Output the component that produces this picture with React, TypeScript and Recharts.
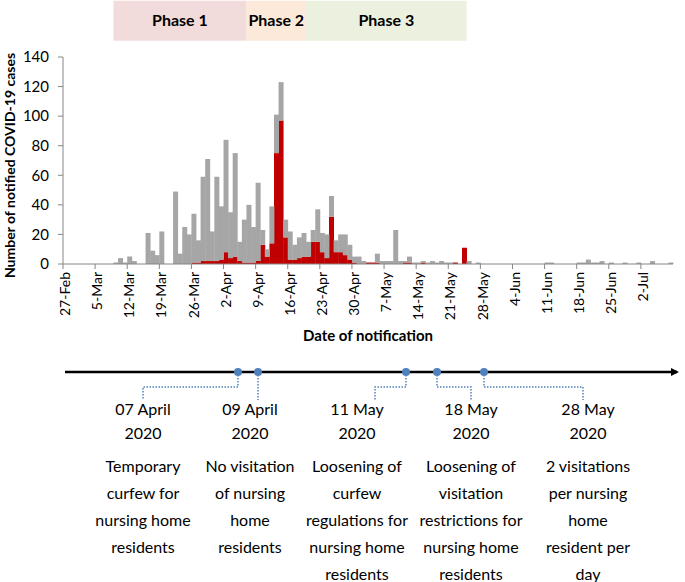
import React from 'react';
import { BarChart, Bar, XAxis, YAxis, ReferenceArea, Label } from 'recharts';

const MONTHS = ['Jan', 'Feb', 'Mar', 'Apr', 'May', 'Jun', 'Jul'];

// one category per day, 27-Feb-2020 .. 8-Jul-2020
const days: string[] = Array.from({ length: 133 }, (_, i) => {
  const d = new Date(2020, 1, 27 + i);
  return `${d.getDate()}-${MONTHS[d.getMonth()]}`;
});

const tickLabels = [
  '27-Feb', '5-Mar', '12-Mar', '19-Mar', '26-Mar', '2-Apr', '9-Apr', '16-Apr', '23-Apr', '30-Apr',
  '7-May', '14-May', '21-May', '28-May', '4-Jun', '11-Jun', '18-Jun', '25-Jun', '2-Jul',
];

const yTicks = [0, 20, 40, 60, 80, 100, 120, 140];

// all notified cases per day (one row per week, starting on the tick date)
const totalCases = [
  0, 0, 0, 0, 0, 0, 0,
  0, 0, 0, 0, 1, 4, 1,
  5, 2, 0, 0, 21, 9, 6,
  22, 0, 0, 49, 7, 25, 20,
  34, 16, 59, 71, 22, 59, 39,
  84, 35, 75, 15, 30, 40, 25,
  55, 23, 10, 39, 101, 123, 30,
  22, 13, 18, 21, 15, 23, 37,
  21, 20, 46, 16, 20, 20, 13,
  5, 5, 2, 1, 1, 7, 2,
  2, 2, 23, 2, 2, 5, 1,
  1, 2, 1, 2, 1, 2, 1,
  1, 1, 0, 11, 2, 0, 1,
  0, 0, 0, 0, 0, 0, 0,
  0, 0, 0, 0, 0, 0, 0,
  1, 1, 0, 0, 0, 0, 0,
  1, 1, 3, 1, 1, 2, 0,
  1, 0, 0, 1, 0, 0, 1,
  0, 0, 2, 0, 0, 0, 1,
];

// cases linked to nursing homes
const nursingHomeCases = [
  0, 0, 0, 0, 0, 0, 0,
  0, 0, 0, 0, 0, 0, 0,
  0, 0, 0, 0, 0, 0, 0,
  0, 0, 0, 0, 0, 0, 0,
  1, 1, 2, 2, 2, 2, 3,
  8, 4, 5, 2, 1, 1, 1,
  2, 13, 5, 14, 75, 97, 18,
  3, 3, 4, 5, 5, 15, 15,
  8, 4, 32, 8, 8, 6, 3,
  1, 0, 0, 1, 1, 1, 0,
  0, 0, 0, 0, 1, 1, 0,
  0, 1, 0, 0, 0, 0, 0,
  0, 1, 0, 11, 0, 0, 0,
  0, 0, 0, 0, 0, 0, 0,
  0, 0, 0, 0, 0, 0, 0,
  0, 0, 0, 0, 0, 0, 0,
  0, 0, 0, 0, 0, 0, 0,
  0, 0, 0, 0, 0, 0, 0,
  0, 0, 0, 0, 0, 0, 0,
];

const phaseNames = ['Phase 1', 'Phase 2', 'Phase 3'];
const phaseStart = ['9-Mar', '7-Apr', '20-Apr'];
const phaseEnd = ['6-Apr', '19-Apr', '24-May'];
const phaseColors = ['#F2DCDB', '#FDE9D9', '#EBF1DE'];

const eventDates = [
  ['07 April', '2020'],
  ['09 April', '2020'],
  ['11 May', '2020'],
  ['18 May', '2020'],
  ['28 May', '2020'],
];
const eventTexts = [
  ['Temporary', 'curfew for', 'nursing home', 'residents'],
  ['No visitation', 'of nursing', 'home', 'residents'],
  ['Loosening of', 'curfew', 'regulations for', 'nursing home', 'residents'],
  ['Loosening of', 'visitation', 'restrictions for', 'nursing home', 'residents'],
  ['2 visitations', 'per nursing', 'home', 'resident per', 'day'],
];

// timeline layout (schematic, not on the chart's date scale)
const dotX = [238, 258, 406, 437, 484];
const elbowX = [143, 258, 375, 471, 583];
const textX = [143, 250, 357, 471, 588];

const data = days.map((day, i) => ({
  day,
  nursingHome: nursingHomeCases[i],
  other: totalCases[i] - nursingHomeCases[i],
}));

const AXIS = '#868686';
const FONT = "Lato, 'Liberation Sans', sans-serif";

const DateTick = (props: any) => {
  const { x, y, payload } = props;
  if (!tickLabels.includes(payload.value)) return null;
  const lx = x - (payload.offset || 0);
  return (
    <g>
      <line x1={lx} x2={lx} y1={y - 8} y2={y - 3} stroke={AXIS} />
      <text
        x={x}
        y={y}
        transform={`rotate(-90, ${x}, ${y})`}
        textAnchor="end"
        dy="0.35em"
        fontSize={14}
        fill="#000"
      >
        {payload.value}
      </text>
    </g>
  );
};

const Timeline = () => (
  <svg width={685} height={582} style={{ position: 'absolute', left: 0, top: 0, fontFamily: FONT }}>
    <defs>
      <marker id="arrow" markerWidth="8" markerHeight="8" refX="6" refY="4" orient="auto" markerUnits="userSpaceOnUse">
        <path d="M0,0 L8,4 L0,8 Z" fill="#000" />
      </marker>
    </defs>
    <line x1={65} y1={372} x2={677} y2={372} stroke="#000" strokeWidth={2.5} markerEnd="url(#arrow)" />
    {dotX.map((dx, i) => (
      <g key={i}>
        <path
          d={`M${dx},372 V387 H${elbowX[i]} V400`}
          fill="none"
          stroke="#4F81BD"
          strokeWidth={1.5}
          strokeDasharray="1.5 1.5"
        />
        <circle cx={dx} cy={372} r={4} fill="#4F81BD" />
        {eventDates[i].map((t, k) => (
          <text key={k} x={textX[i]} y={408 + k * 24} textAnchor="middle" dominantBaseline="central" fontSize={16} fill="#000">
            {t}
          </text>
        ))}
        {eventTexts[i].map((t, k) => (
          <text key={k} x={textX[i]} y={465 + k * 27} textAnchor="middle" dominantBaseline="central" fontSize={16} fill="#000">
            {t}
          </text>
        ))}
      </g>
    ))}
  </svg>
);

export default function App() {
  return (
    <div style={{ position: 'absolute', left: 0, top: 0, width: 685, height: 582, background: '#fff', fontFamily: FONT }}>
      <BarChart
        width={685}
        height={350}
        data={data}
        margin={{ top: 57, right: 12, left: 18, bottom: 6 }}
        barCategoryGap={0}
        barGap={0}
      >
        <XAxis
          dataKey="day"
          interval={0}
          tick={<DateTick />}
          tickLine={false}
          tickSize={5}
          tickMargin={3}
          height={80}
          stroke={AXIS}
        >
          <Label value="Date of notification" position="insideBottom" offset={3} fontSize={15} fontWeight="bold" fill="#000" />
        </XAxis>
        <YAxis
          type="number"
          domain={[0, 140]}
          ticks={yTicks}
          interval={0}
          width={45}
          tickSize={5}
          tickMargin={9}
          stroke={AXIS}
          tick={{ fill: '#000', fontSize: 15 }}
        >
          <Label
            content={(p: any) => {
              const vb = p.viewBox;
              const cx = 9;
              const cy = vb.y + vb.height / 2 + 5;
              return (
                <text x={cx} y={cy} transform={`rotate(-90, ${cx}, ${cy})`} textAnchor="middle" dominantBaseline="central" fontSize={14} fontWeight="bold" fill="#000">
                  Number of notified COVID-19 cases
                </text>
              );
            }}
          />
        </YAxis>
        {phaseNames.map((name, i) => (
          <ReferenceArea
            key={name}
            x1={phaseStart[i]}
            x2={phaseEnd[i]}
            y1={151}
            y2={178}
            fill={phaseColors[i]}
            fillOpacity={1}
            stroke="none"
            ifOverflow="visible"
            label={{ value: name, position: 'center', fontSize: 16, fontWeight: 'bold', fill: '#000' }}
          />
        ))}
        <Bar dataKey="nursingHome" stackId="a" fill="#C00000" isAnimationActive={false} />
        <Bar dataKey="other" stackId="a" fill="#A6A6A6" isAnimationActive={false} />
      </BarChart>
      <Timeline />
    </div>
  );
}
